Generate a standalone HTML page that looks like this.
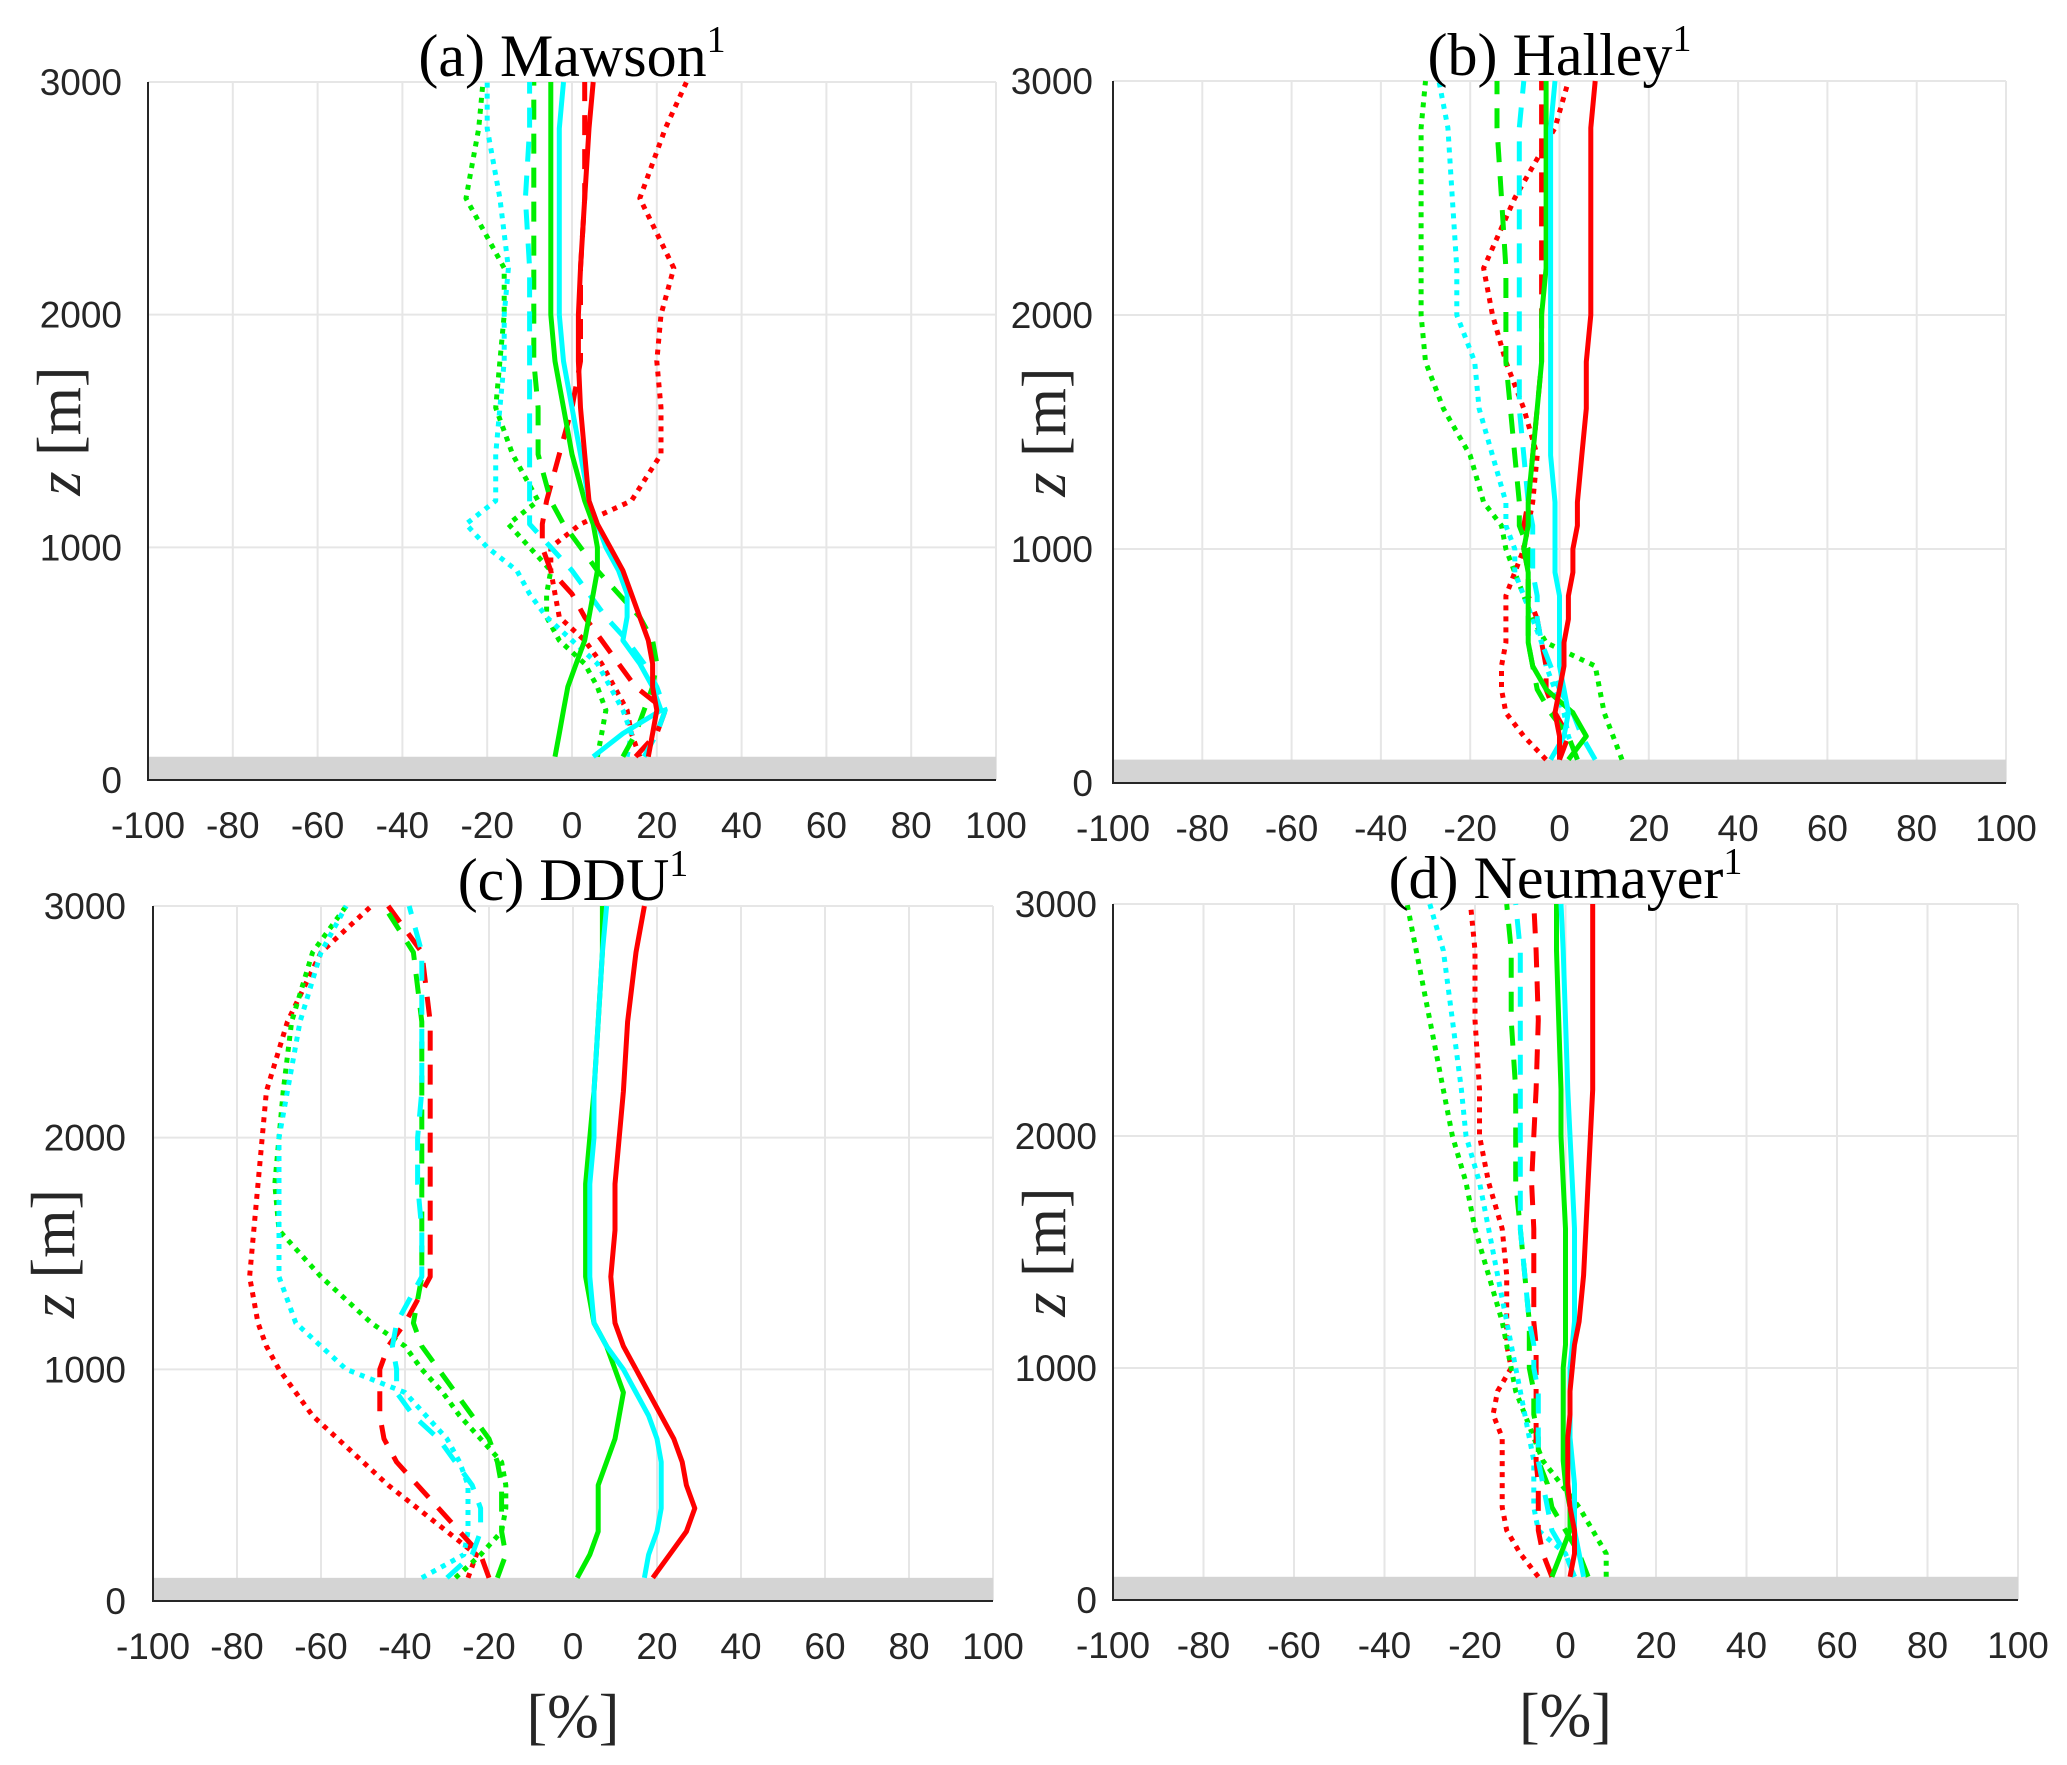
<!DOCTYPE html>
<html><head><meta charset="utf-8"><style>
html,body{margin:0;padding:0;background:#fff}
svg{display:block}
.tk{font-family:"Liberation Sans",sans-serif;font-size:37px;fill:#262626}
.tt{font-family:"Liberation Serif",serif;font-size:60px;fill:#000}
.lb{font-family:"Liberation Serif",serif;font-size:62px;fill:#262626}
</style></head><body>
<svg id="fig" width="2067" height="1765" viewBox="0 0 2067 1765" xmlns="http://www.w3.org/2000/svg"></svg>
<script>
const heights=[100,200,300,400,500,600,700,800,900,1000,1100,1200,1400,1600,1800,2000,2200,2500,2800,3000];
const xTicks=[-100,-80,-60,-40,-20,0,20,40,60,80,100];
const yTicks=[0,1000,2000,3000];
const titles=["(a) Mawson","(b) Halley","(c) DDU","(d) Neumayer"];
// panel a
const aRedSolid=[18,19,20,19,19,18,16,14,12,9,6,4,3,2,1.5,1.5,2,3,4,5];
const aRedDash=[15,20,22,15,11,7,3,0,-5,-7,-7,-6,-3,0,2,2,2,3,3,3];
const aRedDot=[16,14,13,10,7,3,-3,-4,-5,-5,2,14,21,21,20,21,24,16,22,27];
const aGreenSolid=[-4,-3,-2,-1,1,3,4,5,6,6,5,3,0,-2,-4,-5,-5,-5,-5,-5];
const aGreenDash=[12,15,17,19,20,19,16,11,6,2,-2,-5,-8,-8,-9,-9,-9,-9,-9,-9];
const aGreenDot=[6,7,8,6,3,-3,-6,-6,-5,-10,-15,-8,-14,-18,-17,-16,-16,-25,-22,-21];
const aCyanSolid=[5,12,21,19,16,12,13,13,11,8,6,4,2,0,-2,-3,-3,-3,-3,-2];
const aCyanDash=[17,20,22,20,17,13,8,4,0,-5,-10,-10,-10,-10,-10,-10,-10,-11,-10,-10];
const aCyanDot=[13,14,12,9,6,0,-6,-10,-13,-20,-25,-18,-18,-17,-16,-16,-15,-17,-20,-20];
// panel b
const bRedSolid=[0,0,-1,0,1,1,2,2,3,3,4,4,5,6,6,7,7,7,7,8];
const bRedDash=[0,2,-1,-3,-3,-4,-5,-7,-7,-8,-8,-7,-6,-5,-4,-4,-4,-4,-4,-4];
const bRedDot=[-3,-8,-12,-13,-13,-12,-12,-12,-10,-8,-7,-6,-5,-8,-12,-15,-17,-10,-1,2];
const bGreenSolid=[2,6,3,-3,-6,-7,-7,-7,-7,-8,-7,-7,-6,-5,-4,-4,-3,-3,-3,-3];
const bGreenDash=[4,2,-2,-5,-6,-7,-7,-7,-7,-7,-9,-9,-10,-11,-12,-12,-12,-13,-14,-14];
const bGreenDot=[14,12,10,9,8,-3,-6,-8,-10,-12,-13,-17,-20,-26,-30,-31,-31,-31,-31,-30];
const bCyanSolid=[-2,1,2,1,0,0,0,0,-1,-1,-1,-1,-2,-2,-2,-2,-2,-2,-2,-1];
const bCyanDash=[8,5,3,0,-2,-4,-5,-5,-6,-6,-6,-7,-8,-9,-9,-9,-9,-9,-9,-8];
const bCyanDot=[4,2,1,-1,-3,-4,-6,-8,-10,-10,-12,-12,-15,-18,-19,-23,-23,-24,-25,-27];
// panel c
const cRedSolid=[19,23,27,29,27,26,24,21,18,15,12,10,9,10,10,11,12,13,15,17];
const cRedDash=[-20,-22,-27,-32,-37,-42,-45,-46,-46,-46,-44,-40,-34,-34,-34,-34,-34,-34,-36,-44];
const cRedDot=[-25,-23,-30,-37,-44,-50,-56,-62,-66,-70,-73,-75,-77,-76,-75,-74,-73,-68,-60,-48];
const cGreenSolid=[1,4,6,6,6,8,10,11,12,10,8,5,3,3,3,4,5,6,7,7];
const cGreenDash=[-18,-16,-17,-17,-17,-18,-20,-24,-28,-32,-36,-38,-36,-36,-36,-36,-36,-36,-38,-45];
const cGreenDot=[-28,-22,-17,-16,-16,-17,-22,-27,-31,-36,-40,-48,-60,-70,-71,-70,-69,-67,-62,-54];
const cCyanSolid=[17,18,20,21,21,21,20,18,15,12,8,5,4,4,4,5,5,6,7,8];
const cCyanDash=[-30,-24,-22,-22,-24,-28,-32,-38,-42,-42,-43,-42,-36,-36,-37,-37,-36,-36,-36,-39];
const cCyanDot=[-36,-26,-25,-25,-25,-27,-30,-35,-40,-54,-60,-66,-70,-70,-70,-70,-68,-65,-60,-54];
// panel d
const dRedSolid=[1,2,2,1,0.5,0.5,0.5,1,1,1.5,2,3,4,4.5,5,5.5,6,6,6,6];
const dRedDash=[-3,-5,-6,-6,-6,-6.5,-6.5,-6.5,-6.5,-6.5,-6.5,-7,-7,-7,-7.5,-7,-6.5,-6,-6.5,-7];
const dRedDot=[-6,-10,-13,-14,-14,-14,-14,-16,-15,-12,-13,-13,-13,-14,-17,-19,-19,-20,-20,-21];
const dGreenSolid=[-3,-1,1,1,0,-0.5,-0.5,-0.5,-0.5,-0.5,0,0,0,0,-0.5,-1,-1,-1.5,-2,-2];
const dGreenDash=[5,3,0,-3,-4,-6,-6,-7,-7,-8,-8,-8,-9,-10,-11,-11,-11,-12,-12,-13];
const dGreenDot=[9,9,6,3,-1,-5,-7,-9,-11,-12,-13,-14,-17,-20,-22,-25,-27,-30,-33,-35];
const dCyanSolid=[4,3,2,2,2,1.5,1,1,1,1,1.5,2,2,2,1.5,1,0.5,0,-0.5,-1];
const dCyanDash=[2,0,-3,-4,-5,-6,-6,-6,-6,-7,-7,-8,-9,-10,-10,-10,-10,-10,-10,-11];
const dCyanDot=[2,0,-6,-7,-7,-7,-8,-9,-10,-11,-12,-13,-15,-17,-19,-22,-23,-25,-27,-30];

const panels=[
 {id:'a',x0:148,x1:996,y0:780,y1:82,tx:122,lx:62,
  s:[[aRedDot,'red','dot'],[aGreenDot,'green','dot'],[aCyanDot,'cyan','dot'],[aRedDash,'red','dash'],[aGreenDash,'green','dash'],[aCyanDash,'cyan','dash'],[aGreenSolid,'green','solid'],[aCyanSolid,'cyan','solid'],[aRedSolid,'red','solid']]},
 {id:'b',x0:1113,x1:2006,y0:783,y1:81,tx:1093,lx:1047,
  s:[[bRedDot,'red','dot'],[bGreenDot,'green','dot'],[bCyanDot,'cyan','dot'],[bRedDash,'red','dash'],[bGreenDash,'green','dash'],[bCyanDash,'cyan','dash'],[bGreenSolid,'green','solid'],[bCyanSolid,'cyan','solid'],[bRedSolid,'red','solid']]},
 {id:'c',x0:153,x1:993,y0:1601,y1:906,tx:126,lx:56,
  s:[[cRedDot,'red','dot'],[cGreenDot,'green','dot'],[cCyanDot,'cyan','dot'],[cRedDash,'red','dash'],[cGreenDash,'green','dash'],[cCyanDash,'cyan','dash'],[cGreenSolid,'green','solid'],[cCyanSolid,'cyan','solid'],[cRedSolid,'red','solid']]},
 {id:'d',x0:1113,x1:2018,y0:1600,y1:904,tx:1097,lx:1047,
  s:[[dRedDot,'red','dot'],[dGreenDot,'green','dot'],[dCyanDot,'cyan','dot'],[dRedDash,'red','dash'],[dGreenDash,'green','dash'],[dCyanDash,'cyan','dash'],[dGreenSolid,'green','solid'],[dCyanSolid,'cyan','solid'],[dRedSolid,'red','solid']]}
];
const colors={red:'#ff0000',green:'#00ee00',cyan:'#00ffff'};
const dashes={solid:'',dot:'5 6',dash:'20 14'};
const svg=document.getElementById('fig');
const NS='http://www.w3.org/2000/svg';
function mk(tag,attrs,parent){const e=document.createElementNS(NS,tag);for(const k in attrs)e.setAttribute(k,attrs[k]);(parent||svg).appendChild(e);return e;}
panels.forEach((p,pi)=>{
 const g=mk('g',{});
 
 
 const X=v=>p.x0+(v+100)/200*(p.x1-p.x0);
 const Y=v=>p.y0-v/3000*(p.y0-p.y1);
 xTicks.forEach(t=>{const l=mk('line',{x1:X(t),x2:X(t),y1:Y(0),y2:Y(3000),stroke:'#e6e6e6','stroke-width':2},g);
  
  });
 yTicks.forEach(t=>{const l=mk('line',{x1:X(-100),x2:X(100),y1:Y(t),y2:Y(t),stroke:'#e6e6e6','stroke-width':2},g);
  
  });
 const gr=mk('rect',{x:X(-100),y:Y(100),width:X(100)-X(-100),height:Y(0)-Y(100),fill:'#d4d4d4'},g);
 
 
 p.s.forEach(s=>{
  const d=s[0].map((v,i)=>(i?'L':'M')+X(v).toFixed(1)+' '+Y(heights[i]).toFixed(1)).join(' ');
  const a={d:d,fill:'none',stroke:colors[s[1]],'stroke-width':5,'stroke-linejoin':'round'};
  if(dashes[s[2]])a['stroke-dasharray']=dashes[s[2]];
  const e=mk('path',a,g);
  
  
 });
 const ax=mk('path',{d:`M${X(-100)} ${Y(3000)} L${X(-100)} ${Y(0)} L${X(100)} ${Y(0)}`,fill:'none',stroke:'#262626','stroke-width':2},g);
 
 
 yTicks.forEach(t=>{const e=mk('text',{x:p.tx,y:Y(t)+13,'text-anchor':'end',class:'tk'},g);e.textContent=t;
  
  });
 xTicks.forEach(t=>{const e=mk('text',{x:X(t),y:Y(0)+58,'text-anchor':'middle',class:'tk'},g);e.textContent=t;
  
  });
 const tt=mk('text',{x:X(0),y:Y(3000)-6,'text-anchor':'middle',class:'tt'},g);
 tt.textContent=titles[pi];
 const sup=mk('tspan',{dy:-24,'font-size':38},tt);sup.textContent='1';
 
 
 const yl=mk('text',{x:0,y:0,'text-anchor':'middle',class:'lb',transform:`translate(${p.lx+18},${Y(1500)}) rotate(-90)`},g);
 yl.innerHTML='<tspan font-style="italic">z</tspan> [m]';
 
 
 if(p.id==='c'||p.id==='d'){
  const xl=mk('text',{x:X(0),y:Y(0)+136,'text-anchor':'middle',class:'lb'},g);
  xl.textContent='[%]';
  
  
 }
});
</script>
</body></html>
